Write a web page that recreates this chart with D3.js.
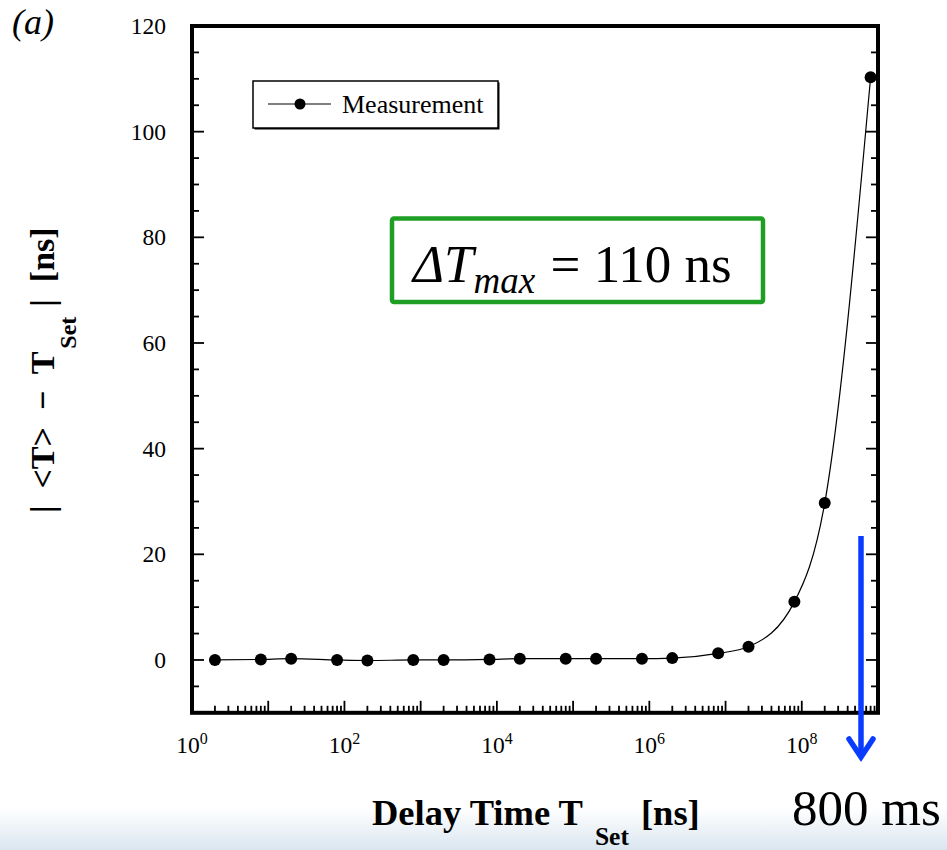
<!DOCTYPE html>
<html>
<head>
<meta charset="utf-8">
<script src="https://cdn.jsdelivr.net/npm/d3@7"></script>
<style>
  html, body { margin: 0; padding: 0; background: #fff; }
  svg { display: block; }
  text { font-family: "Liberation Serif", "Times New Roman", serif; fill: #000; }
</style>
</head>
<body>
<script>
// ---- data ----
const delayTimes = [2, 8, 20, 80, 200, 800, 2e3, 8e3, 2e4, 8e4, 2e5, 8e5, 2e6, 8e6, 2e7, 8e7, 2e8, 8e8];
const deviations = [0, 0.1, 0.25, 0, -0.1, 0, 0, 0.1, 0.25, 0.25, 0.25, 0.25, 0.35, 1.25, 2.5, 11.0, 29.7, 110.3];
const yTickValues = [0, 20, 40, 60, 80, 100, 120];
const xDecadeExponents = [0, 2, 4, 6, 8];
const seriesName = "Measurement";
const annotationValue = "110 ns";
const arrowLabel = "800 ms";

(function () {
const W = 947, H = 850;
const svg = d3.select("body").append("svg").attr("width", W).attr("height", H);

// background gradient band at bottom
const defs = svg.append("defs");
const grad = defs.append("linearGradient").attr("id", "band").attr("x1", 0).attr("y1", 0).attr("x2", 0).attr("y2", 1);
grad.append("stop").attr("offset", "0%").attr("stop-color", "#ffffff");
grad.append("stop").attr("offset", "100%").attr("stop-color", "#dae6f0");
svg.append("rect").attr("x", 0).attr("y", 808).attr("width", W).attr("height", H - 808).attr("fill", "url(#band)");

const pL = 192, pR = 878, pT = 26, pB = 712.8;
const x = d3.scaleLog().domain([1, 1e9]).range([pL, pR]);
const y = d3.scaleLinear().domain([-10, 120]).range([pB, pT]);

const g = svg.append("g");

// minor/major x ticks (inward)
const xMinor = [];
for (let e = 0; e < 9; e++) for (let m = 2; m <= 9; m++) xMinor.push(m * Math.pow(10, e));
const xMajor = d3.range(1, 9).map(e => Math.pow(10, e));
g.append("g").selectAll("line").data(xMinor).join("line")
  .attr("x1", d => x(d)).attr("x2", d => x(d))
  .attr("y1", pB).attr("y2", pB - 7)
  .attr("stroke", "#000").attr("stroke-width", 1.8);
g.append("g").selectAll("line").data(xMajor).join("line")
  .attr("x1", d => x(d)).attr("x2", d => x(d))
  .attr("y1", pB).attr("y2", pB - 12)
  .attr("stroke", "#000").attr("stroke-width", 1.8);

// y ticks left and right (inward)
const yMinor = d3.range(-5, 120, 5).filter(v => v % 20 !== 0);
const yMajor = d3.range(0, 120, 20);
[[pL, 1], [pR, -1]].forEach(([axx, dir]) => {
  g.append("g").selectAll("line").data(yMinor).join("line")
    .attr("x1", axx).attr("x2", axx + dir * 7)
    .attr("y1", d => y(d)).attr("y2", d => y(d))
    .attr("stroke", "#000").attr("stroke-width", 1.8);
  g.append("g").selectAll("line").data(yMajor).join("line")
    .attr("x1", axx).attr("x2", axx + dir * 12)
    .attr("y1", d => y(d)).attr("y2", d => y(d))
    .attr("stroke", "#000").attr("stroke-width", 1.8);
});

// frame
g.append("rect").attr("x", pL).attr("y", pT).attr("width", pR - pL).attr("height", pB - pT)
  .attr("fill", "none").attr("stroke", "#000").attr("stroke-width", 4);

// y tick labels
g.append("g").selectAll("text").data(yTickValues).join("text")
  .attr("x", 166).attr("y", d => y(d) + 8)
  .attr("text-anchor", "end").attr("font-size", 23.5)
  .text(d => d);

// x tick labels 10^n
const xl = g.append("g").selectAll("text").data(xDecadeExponents).join("text")
  .attr("x", d => x(Math.pow(10, d))).attr("y", 753)
  .attr("text-anchor", "middle").attr("font-size", 23.5);
xl.append("tspan").text("10");
xl.append("tspan").attr("font-size", 16).attr("dy", -9).text(d => d);

// data curve
const pts = delayTimes.map((d, i) => [x(d), y(deviations[i])]);
g.append("path").attr("d", d3.line().curve(d3.curveMonotoneX)(pts))
  .attr("fill", "none").attr("stroke", "#000").attr("stroke-width", 1.2);
g.append("g").selectAll("circle").data(pts).join("circle")
  .attr("cx", d => d[0]).attr("cy", d => d[1]).attr("r", 6).attr("fill", "#000");

// legend
const lg = svg.append("g");
lg.append("rect").attr("x", 254.5).attr("y", 82.5).attr("width", 245).attr("height", 47).attr("fill", "#000");
lg.append("rect").attr("x", 253).attr("y", 81).attr("width", 245).attr("height", 47)
  .attr("fill", "#fff").attr("stroke", "#000").attr("stroke-width", 1.5);
lg.append("line").attr("x1", 268).attr("x2", 331).attr("y1", 104).attr("y2", 104).attr("stroke", "#000").attr("stroke-width", 1.2);
lg.append("circle").attr("cx", 300).attr("cy", 104).attr("r", 5.5).attr("fill", "#000");
lg.append("text").attr("x", 342).attr("y", 113).attr("font-size", 26).text(seriesName);

// green annotation box
svg.append("rect").attr("x", 392).attr("y", 218.5).attr("width", 371).attr("height", 83.5).attr("rx", 2)
  .attr("fill", "#fff").attr("stroke", "#1e9e24").attr("stroke-width", 4.5);
const at = svg.append("text").attr("x", 413).attr("y", 282).attr("font-size", 53);
at.append("tspan").attr("font-style", "italic").text("\u0394T");
at.append("tspan").attr("font-style", "italic").attr("font-size", 37).attr("dy", 11).text("max");
at.append("tspan").attr("dy", -11).attr("dx", 2).text(" = " + annotationValue);

// blue arrow
const arX = 861;
svg.append("line").attr("x1", arX).attr("x2", arX).attr("y1", 536).attr("y2", 757)
  .attr("stroke", "#0a3cff").attr("stroke-width", 5.5);
svg.append("path").attr("d", `M${arX - 12},${739} L${arX},${757} L${arX + 12},${739}`)
  .attr("fill", "none").attr("stroke", "#0a3cff").attr("stroke-width", 5.5)
  .attr("stroke-linecap", "round").attr("stroke-linejoin", "miter");
svg.append("text").attr("x", 792).attr("y", 825).attr("font-size", 51).text(arrowLabel);

// x axis label
const xt = svg.append("text").attr("x", 372).attr("y", 825).attr("font-size", 36.5).attr("font-weight", "bold");
xt.append("tspan").text("Delay Time T");
xt.append("tspan").attr("font-size", 25.5).attr("dy", 20).attr("dx", 12).text("Set");
xt.append("tspan").attr("dy", -20).attr("dx", 12).text("[ns]");

// y axis label (rotated)
const yt = svg.append("text").attr("transform", "translate(54,513) rotate(-90)")
  .attr("font-size", 34).attr("font-weight", "bold").style("white-space", "pre");
yt.append("tspan").text("|  <T>  \u2212  T");
yt.append("tspan").attr("font-size", 24).attr("dy", 22).attr("dx", 3).text("Set");
yt.append("tspan").attr("dy", -22).attr("dx", 10).text("|  [ns]");

// panel tag
svg.append("text").attr("x", 12).attr("y", 34).attr("font-size", 36).attr("font-style", "italic").text("(a)");
})();
</script>
</body>
</html>
